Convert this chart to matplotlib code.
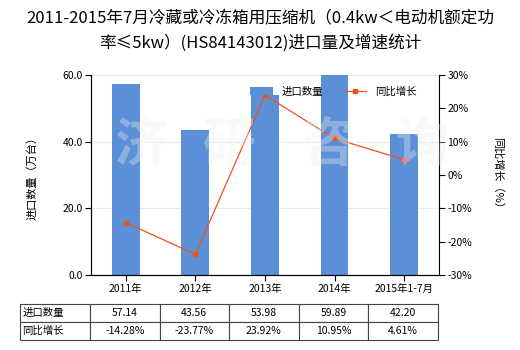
import matplotlib.pyplot as plt
import numpy as np

plt.rcParams['font.family'] = ['Noto Sans CJK SC', 'DejaVu Sans']

years = ['2011年', '2012年', '2013年', '2014年', '2015年1-7月']
volume = [57.14, 43.56, 53.98, 59.89, 42.20]
growth = [-14.28, -23.77, 23.92, 10.95, 4.61]
volume_text = ['57.14', '43.56', '53.98', '59.89', '42.20']
growth_text = ['-14.28%', '-23.77%', '23.92%', '10.95%', '4.61%']

bar_color = '#5b8fd7'
line_color = '#e8561f'

fig = plt.figure(figsize=(5.2, 3.5), dpi=100)
ax = fig.add_axes([0.175, 0.214, 0.669, 0.572])
idx = np.arange(len(years))

ax.bar(idx, volume, width=0.4, color=bar_color, zorder=2, label='进口数量')
ax.set_xlim(-0.5, len(years) - 0.5)
ax.set_ylim(0, 60)
ax.set_yticks([0, 20, 40, 60])
ax.set_yticklabels(['0.0', '20.0', '40.0', '60.0'], fontsize=7.5)
ax.set_xticks(idx)
ax.set_xticklabels(years, fontsize=7.5)
ax.yaxis.grid(True, color='#e8eef0', lw=0.8, zorder=0)
ax.set_ylabel('进口数量（万台）', fontsize=8, labelpad=18)
ax.spines['top'].set_visible(False)
ax.spines['right'].set_visible(False)
ax.tick_params(length=4, width=0.8, pad=2)

ax2 = ax.twinx()
ax2.plot(idx, growth, color=line_color, lw=0.9, marker='s', ms=3.5, label='同比增长', zorder=3)
ax2.set_ylim(-30, 30)
ax2.set_yticks(range(-30, 31, 10))
ax2.set_yticklabels([f'{v}%' for v in range(-30, 31, 10)], fontsize=7.5)
ax2.set_ylabel('同比增长（%）', fontsize=8, rotation=270, labelpad=22)
ax2.spines['top'].set_visible(False)
ax2.tick_params(length=4, width=0.8, pad=2)

# watermark
for x, ch in zip([0.27, 0.44, 0.63, 0.81], '济研咨询'):
    fig.text(x, 0.585, ch, fontsize=38, color='#f0f0f0', alpha=0.35,
             ha='center', va='center', fontweight='bold', zorder=10)

h1, l1 = ax.get_legend_handles_labels()
h2, l2 = ax2.get_legend_handles_labels()
ax2.legend(h1 + h2, l1 + l2, loc='upper left', bbox_to_anchor=(0.43, 0.99), ncol=2,
           frameon=False, fontsize=7.5, handlelength=2.2, columnspacing=2.0,
           handleheight=0.7)

fig.text(0.5, 0.97, '2011-2015年7月冷藏或冷冻箱用压缩机（0.4kw＜电动机额定功',
         ha='center', va='top', fontsize=12)
fig.text(0.5, 0.902, '率≤5kw）(HS84143012)进口量及增速统计',
         ha='center', va='top', fontsize=12)

cell_text = [['进口数量'] + volume_text, ['同比增长'] + growth_text]
tbl = ax.table(cellText=cell_text, cellLoc='center',
               bbox=[-0.204, -0.325, 1.201, 0.18],
               colWidths=[70] + [69.6] * 5)
tbl.auto_set_font_size(False)
tbl.set_fontsize(7.5)
for (r, c), cell in tbl.get_celld().items():
    cell.set_edgecolor('#444444')
    cell.set_linewidth(0.8)
    if c == 0:
        cell.set_text_props(ha='left')
        cell.PAD = 0.03

fig.savefig('out.png', dpi=100)
